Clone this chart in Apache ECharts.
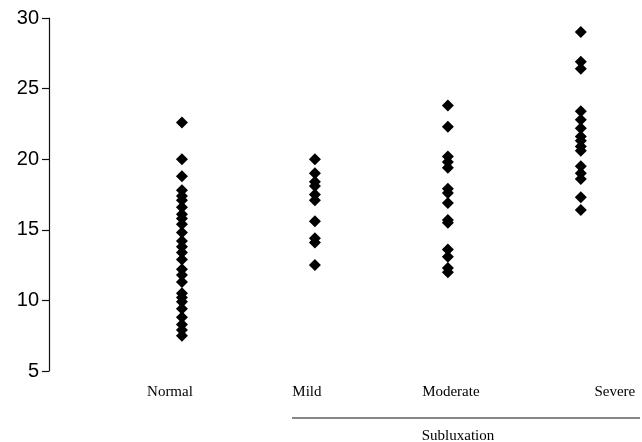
<!DOCTYPE html>
<html>
<head>
<meta charset="utf-8">
<script src="https://cdn.jsdelivr.net/npm/echarts@6/dist/echarts.min.js"></script>
<style>html,body{margin:0;padding:0;background:#fff;}#c{width:642px;height:442px;}</style>
</head>
<body>
<div id="c"></div>
<script>
var categories = ['Normal', 'Mild', 'Moderate', 'Severe'];
var normalValues = [22.6, 20.0, 18.8, 17.8, 17.4, 17.1, 16.6, 16.1, 15.8, 15.4, 14.8, 14.2, 13.8, 13.4, 12.9, 12.2, 11.8, 11.3, 10.5, 10.2, 9.9, 9.4, 8.8, 8.3, 7.9, 7.5];
var mildValues = [20.0, 19.0, 18.4, 18.1, 17.5, 17.1, 15.6, 14.4, 14.1, 12.5];
var moderateValues = [23.8, 22.3, 20.2, 19.8, 19.4, 17.9, 17.6, 16.9, 15.7, 15.5, 13.6, 13.1, 12.3, 12.0];
var severeValues = [29.0, 26.9, 26.4, 23.4, 22.8, 22.2, 21.6, 21.3, 20.9, 20.6, 19.5, 19.0, 18.6, 17.3, 16.4];
var yTicks = [5, 10, 15, 20, 25, 30];
var groupLabel = 'Subluxation';

var groups = [normalValues, mildValues, moderateValues, severeValues];
var points = [];
groups.forEach(function (arr, i) {
  arr.forEach(function (v) { points.push([i + 1, v]); });
});

var chart = echarts.init(document.getElementById('c'));
chart.setOption({
  animation: false,
  backgroundColor: '#fff',
  grid: { left: 49, right: 8, top: 18, bottom: 71 },
  xAxis: {
    type: 'value', min: 0, max: 4.4, interval: 1,
    axisLine: { show: false }, axisTick: { show: false }, splitLine: { show: false },
    axisLabel: {
      margin: 14, showMaxLabel: false,
      formatter: function (v) {
        var i = Math.round(v) - 1;
        if (i < 0 || i >= categories.length || Math.abs(v - Math.round(v)) > 1e-6) return '';
        return '{c' + i + '|' + categories[i] + '}';
      },
      rich: {
        c0: { fontFamily: 'Liberation Serif', fontSize: 15, color: '#000', padding: [0, 24, 0, 0] },
        c1: { fontFamily: 'Liberation Serif', fontSize: 15, color: '#000', padding: [0, 16, 0, 0] },
        c2: { fontFamily: 'Liberation Serif', fontSize: 15, color: '#000', padding: [0, 0, 0, 6] },
        c3: { fontFamily: 'Liberation Serif', fontSize: 15, color: '#000', padding: [0, 0, 0, 68] }
      }
    }
  },
  yAxis: {
    type: 'value', min: yTicks[0], max: yTicks[yTicks.length - 1], interval: 5,
    axisLine: { show: true, lineStyle: { color: '#111', width: 1.2 } },
    axisTick: { show: true, length: 7, lineStyle: { color: '#111', width: 1.2 } },
    splitLine: { show: false },
    axisLabel: { margin: 10, fontFamily: 'Liberation Sans', fontSize: 20, color: '#000' }
  },
  graphic: [
    { type: 'line', shape: { x1: 292, y1: 418, x2: 640, y2: 418 }, style: { stroke: '#111', lineWidth: 1.2 } },
    { type: 'text', x: 458, y: 436, style: { text: groupLabel, textAlign: 'center', textVerticalAlign: 'middle', font: '15px "Liberation Serif"', fill: '#000' } }
  ],
  series: [{
    type: 'scatter',
    symbol: 'diamond',
    symbolSize: [12, 12],
    itemStyle: { color: '#000', opacity: 1 },
    data: points
  }]
});
</script>
</body>
</html>
